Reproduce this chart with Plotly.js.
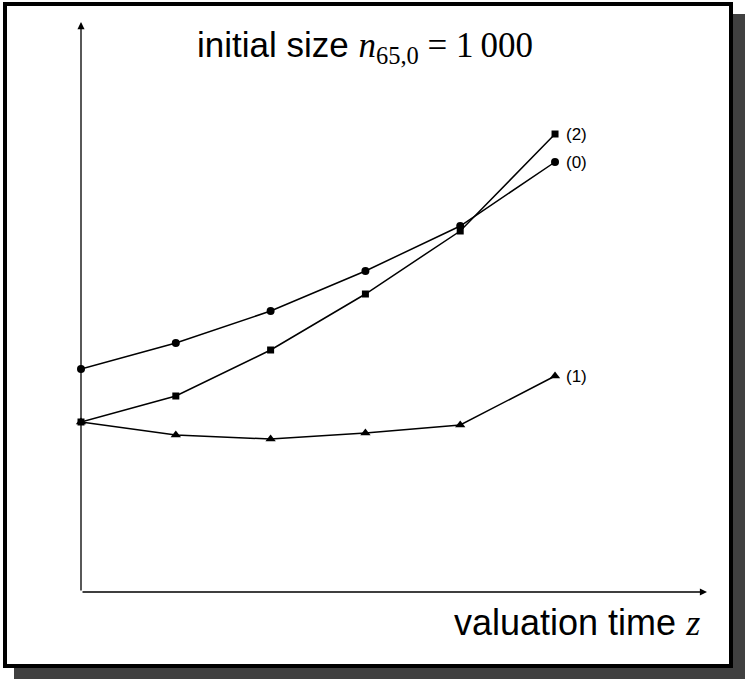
<!DOCTYPE html>
<html>
<head>
<meta charset="utf-8">
<script src="https://cdn.plot.ly/plotly-3.0.1.min.js"></script>
<style>html,body{margin:0;padding:0;background:#fff;}#chart{width:745px;height:679px;}</style>
</head>
<body>
<div id="chart"></div>
<script>
// ---- data ----
const valuationTime = [0, 1, 2, 3, 4, 5];
const series0 = [22.3, 24.9, 28.1, 32.1, 36.6, 43.0];
const series1 = [17.0, 15.7, 15.3, 15.9, 16.7, 21.6];
const series2 = [17.0, 19.6, 24.2, 29.8, 36.1, 45.8];
const seriesLabels = ['(0)', '(1)', '(2)'];
const titleText = 'initial size <span style="font-family:Liberation Serif"><i>n</i><sub>65,0</sub> = 1\u2009000</span>';
const xLabelText = 'valuation time <span style="font-family:Liberation Serif"><i>z</i></span>';

// ---- layout helpers (pixel -> paper) ----
const L = 81, T = 22, W = 626, H = 570;
const px = x => (x - L) / W;
const py = y => (T + H - y) / H;
const xMax = 6.603, yMax = 57.0;

const seriesList = [series0, series1, series2];
const symbols = ['circle', 'triangle-up', 'square'];
const sizes = [8, 9, 7];

const traces = seriesList.map((s, i) => ({
  x: valuationTime, y: s, type: 'scatter', mode: 'lines+markers',
  line: {color: '#000', width: 1.5},
  marker: {symbol: symbols[i], size: sizes[i], color: '#000'},
  showlegend: false, hoverinfo: 'skip', cliponaxis: false
}));

const annotations = seriesList.map((s, i) => ({
  x: valuationTime[valuationTime.length - 1], y: s[s.length - 1],
  xref: 'x', yref: 'y', text: seriesLabels[i], showarrow: false,
  xanchor: 'left', yanchor: 'middle', xshift: 9,
  font: {family: 'Liberation Sans', size: 17, color: '#000'}
}));

// axes with arrowheads
annotations.push({x: xMax, y: 0, ax: 0, ay: 0, xref: 'x', yref: 'y', axref: 'x', ayref: 'y',
  text: '', showarrow: true, arrowhead: 2, arrowsize: 1.1, arrowwidth: 1.3, arrowcolor: '#000', standoff: 0});
annotations.push({x: 0, y: yMax, ax: 0, ay: 0, xref: 'x', yref: 'y', axref: 'x', ayref: 'y',
  text: '', showarrow: true, arrowhead: 2, arrowsize: 1.1, arrowwidth: 1.3, arrowcolor: '#000', standoff: 0});

annotations.push({x: px(365), y: py(47), xref: 'paper', yref: 'paper', text: titleText, showarrow: false,
  xanchor: 'center', yanchor: 'middle',
  font: {family: 'Liberation Sans', size: 35, color: '#000'}});
annotations.push({x: px(702), y: py(622), xref: 'paper', yref: 'paper', text: xLabelText, showarrow: false,
  xanchor: 'right', yanchor: 'middle',
  font: {family: 'Liberation Sans', size: 36, color: '#000'}});

const shapes = [
  {type: 'rect', xref: 'paper', yref: 'paper', layer: 'below',
   x0: px(14), x1: px(745), y0: py(679), y1: py(14), fillcolor: '#404040', line: {width: 0}},
  {type: 'rect', xref: 'paper', yref: 'paper', layer: 'below',
   x0: px(5), x1: px(731), y0: py(666), y1: py(4), fillcolor: '#ffffff', line: {color: '#000', width: 4}}
];

const layout = {
  width: 745, height: 679,
  margin: {l: L, r: 745 - L - W, t: T, b: 679 - T - H, pad: 0},
  paper_bgcolor: '#fff', plot_bgcolor: 'rgba(0,0,0,0)',
  xaxis: {range: [0, xMax], visible: false, fixedrange: true},
  yaxis: {range: [0, yMax], visible: false, fixedrange: true},
  annotations: annotations, shapes: shapes, showlegend: false
};

Plotly.newPlot('chart', traces, layout, {staticPlot: true, displayModeBar: false});
</script>
</body>
</html>
